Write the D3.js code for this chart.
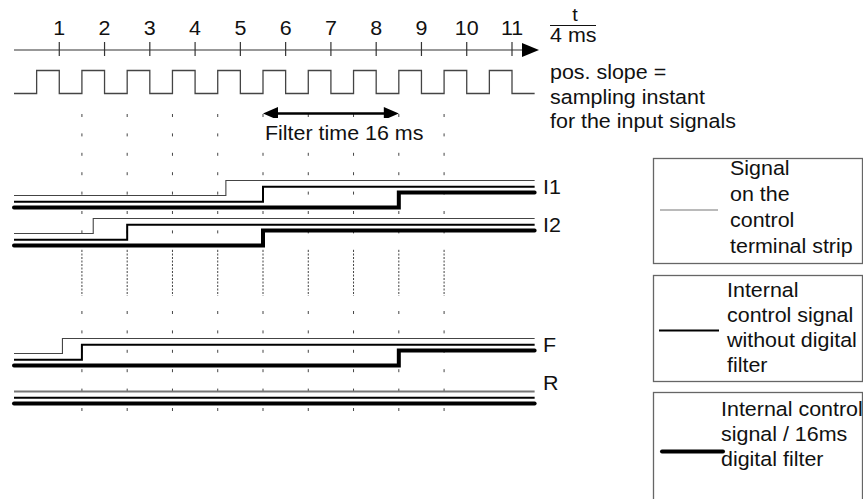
<!DOCTYPE html>
<html>
<head>
<meta charset="utf-8">
<script src="https://cdn.jsdelivr.net/npm/d3@7"></script>
<style>
  body { margin: 0; background: #fff; }
  text { font-family: "Liberation Sans", Arial, sans-serif; font-size: 19.5px; fill: #111; }
</style>
</head>
<body>
<div class="chart"></div>
<script>
// time axis in units of 4 ms
var tickValues = [1, 2, 3, 4, 5, 6, 7, 8, 9, 10, 11];
var clockRise = [0.5, 1.5, 2.5, 3.5, 4.5, 5.5, 6.5, 7.5, 8.5, 9.5, 10.5];
var clockFall = [1, 2, 3, 4, 5, 6, 7, 8, 9, 10, 11];
var sampleInstants = [1.5, 2.5, 3.5, 4.5, 5.5, 6.5, 7.5, 8.5, 9.5];
var filterWindow = [5.5, 8.5];

// signals: time at which each version goes high (null = stays low)
var signalNames = ["I1", "I2", "F", "R"];
var terminalSwitch = [4.68, 1.75, 1.07, null];
var internalSwitch = [5.5, 2.5, 1.5, null];
var filteredSwitch = [8.5, 5.5, 8.5, null];

var noteLines = ["pos. slope =", "sampling instant", "for the input signals"];
var legendTexts = [
  ["Signal", "on the", "control", "terminal strip"],
  ["Internal", "control signal", "without digital", "filter"],
  ["Internal control", "signal / 16ms", "digital filter"]
];

var width = 863, height = 499;

var svg = d3.select(".chart")
  .append("svg")
  .attr("width", width)
  .attr("height", height);

var x = d3.scaleLinear().domain([0, 11]).range([14, 512]);
var tEnd = 11.5;

var styles = [
  {w: 1.1, c: "#444", off: 0},    // terminal strip
  {w: 2, c: "#000", off: 6.3},    // internal, no filter
  {w: 4, c: "#000", off: 12}      // internal, filtered
];
var rowY = d3.scaleOrdinal().domain(signalNames).range([195.5, 233.5, 353.5, 391.5]);
var step = 15;

function label(px, py, s, anchor) {
  return svg.append("text")
    .attr("transform", "translate(" + px + "," + py + ") scale(1.1,1)")
    .attr("text-anchor", anchor || "start")
    .text(s);
}

// ---- time axis
svg.append("line")
  .attr("x1", x(0)).attr("x2", 524)
  .attr("y1", 50).attr("y2", 50)
  .style("stroke", "#333").style("stroke-width", 1.2);
svg.append("path")
  .attr("d", "M522,43L539,50L522,57Z")
  .style("fill", "#000");

svg.selectAll(".tick")
  .data(tickValues)
  .enter().append("line")
  .attr("class", "tick")
  .attr("x1", function(d){ return x(d) })
  .attr("x2", function(d){ return x(d) })
  .attr("y1", 42).attr("y2", 56)
  .style("stroke", "#333").style("stroke-width", 1.2);

tickValues.forEach(function(d){
  label(x(d), 35, d, "middle");
});

// t / 4 ms
label(575, 21, "t", "middle").style("font-size", "18px");
svg.append("line")
  .attr("x1", 550).attr("x2", 596)
  .attr("y1", 25.5).attr("y2", 25.5)
  .style("stroke", "#111").style("stroke-width", 1);
label(550, 42, "4 ms");

// ---- clock
var hi = 70.5, lo = 93.5;
var clk = [[x(0), lo]];
clockRise.forEach(function(r, i){
  clk.push([x(r), lo], [x(r), hi], [x(clockFall[i]), hi], [x(clockFall[i]), lo]);
});
clk.push([x(tEnd), lo]);
svg.append("path")
  .attr("d", d3.line()(clk))
  .style("fill", "none").style("stroke", "#444").style("stroke-width", 1.3);

noteLines.forEach(function(s, i){
  label(550, 79 + i * 24.5, s);
});

// ---- sampling instants (dashed)
var dashSegs = [[114, 250, "3,16.4"], [250, 296, "2,1.5"], [311, 411, "3,16.4"]];
dashSegs.forEach(function(seg){
  svg.selectAll(null)
    .data(sampleInstants)
    .enter().append("line")
    .attr("x1", function(d){ return x(d) })
    .attr("x2", function(d){ return x(d) })
    .attr("y1", seg[0]).attr("y2", seg[1])
    .style("stroke", "#444")
    .style("stroke-width", 1)
    .style("stroke-dasharray", seg[2]);
});

// filter time arrow
var ay = 113.5;
svg.append("line")
  .attr("x1", x(filterWindow[0]) + 10).attr("x2", x(filterWindow[1]) - 10)
  .attr("y1", ay).attr("y2", ay)
  .style("stroke", "#000").style("stroke-width", 2.5);
svg.append("path")
  .attr("d", "M" + x(filterWindow[0]) + "," + ay + "l15,-6.5v13Z" +
             "M" + x(filterWindow[1]) + "," + ay + "l-15,-6.5v13Z")
  .style("fill", "#000");
svg.append("rect")
  .attr("x", 262).attr("y", 118).attr("width", 164).attr("height", 20)
  .style("fill", "#fff");
label(265, 140, "Filter time 16 ms");

// ---- signal traces
var switches = [terminalSwitch, internalSwitch, filteredSwitch];
signalNames.forEach(function(name, i){
  styles.forEach(function(st, k){
    var low = rowY(name) + st.off, high = low - step;
    var s = switches[k][i];
    var pts = s === null
      ? [[x(0), low], [x(tEnd), low]]
      : [[x(0), low], [x(s), low], [x(s), high], [x(tEnd), high]];
    svg.append("path")
      .attr("d", d3.line()(pts))
      .style("fill", "none")
      .style("stroke", name === "R" && k === 0 ? "#777" : st.c)
      .style("stroke-width", name === "R" && k === 0 ? 2 : st.w)
      .style("stroke-linecap", k === 2 ? "round" : "butt")
      .style("stroke-linejoin", "miter");
  });
  label(543, rowY(name) + (name === "R" ? -2 : -1.5), name);
});

// ---- legend
var boxes = [
  {top: 158.5, bottom: 263.5, tx: 730, ty: 175, ly: 210, lx1: 660, lx2: 718},
  {top: 275.5, bottom: 381.5, tx: 727, ty: 297, ly: 330.5, lx1: 659, lx2: 719},
  {top: 392.5, bottom: 510, tx: 721, ty: 416, ly: 451.5, lx1: 662, lx2: 723}
];
boxes.forEach(function(b, i){
  svg.append("rect")
    .attr("x", 653.5).attr("y", b.top)
    .attr("width", 862.5 - 653.5).attr("height", b.bottom - b.top)
    .style("fill", "none").style("stroke", "#666").style("stroke-width", 1.3);
  svg.append("line")
    .attr("x1", b.lx1).attr("x2", b.lx2)
    .attr("y1", b.ly).attr("y2", b.ly)
    .style("stroke", i === 0 ? "#777" : styles[i].c)
    .style("stroke-width", styles[i].w)
    .style("stroke-linecap", i === 2 ? "round" : "butt");
  legendTexts[i].forEach(function(s, j){
    label(b.tx, b.ty + j * (i === 0 ? 26 : 25), s);
  });
});
</script>
</body>
</html>
